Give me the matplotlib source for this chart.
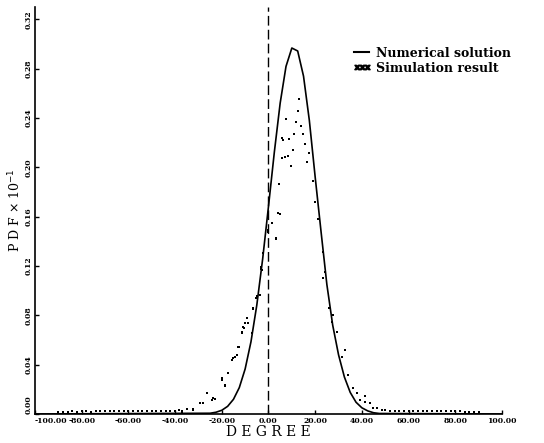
import matplotlib.pyplot as plt
from matplotlib.lines import Line2D
import numpy as np

# numerical solution
num_deg = [-100, -25, -22.5, -20, -17.5, -15, -12.5, -10, -7.5, -5, -2.5, 0, 2.5, 5,
           7.5, 10, 12.5, 15, 17.5, 20, 22.5, 25, 27.5, 30, 32.5, 35, 37.5, 40,
           42.5, 45, 47.5, 100]
num_pdf = [0.0, 0.0006, 0.0014, 0.0030, 0.0062, 0.0119, 0.0214, 0.0365, 0.0586,
           0.0884, 0.1257, 0.1684, 0.2123, 0.2521, 0.2819, 0.2968, 0.2944, 0.2740,
           0.2380, 0.1920, 0.1480, 0.1050, 0.0720, 0.0480, 0.0300, 0.0175, 0.0095,
           0.0050, 0.0025, 0.0010, 0.0004, 0.0]

# simulation result (dots)
sim_deg = [-90, -88, -86, -84, -82, -80, -78, -76, -74, -72, -70, -68, -66, -64,
           -62, -60, -58, -56, -54, -52, -50, -48, -46, -44, -42, -40, -38.5,
           -37.2, -37.2, -35, -32.2, -32.2, -29.3, -27.9, -26.5, -24.3, -23.6,
           -22.9, -20.0, -20.0, -18.6, -18.6, -17.2, -15.8, -15.3, -14.3, -13.6,
           -12.9, -12.5, -11.5, -11.5, -11.0, -10.5, -10.1, -9.3, -8.7, -7.2,
           -6.8, -6.5, -5.4, -5.1, -3.6, -3.3, -2.9, -2.5, -3.3, -0.1, -0.1, 1.4,
           1.6, 3.1, 3.1, 4.2, 4.6, 4.9, 5.8, 5.8, 6.1, 7.1, 7.5, 8.2, 8.9, 9.6,
           10.4, 11.0, 11.8, 12.5, 13.2, 13.9, 14.9, 15.6, 16.4, 17.5, 18.9, 19.9,
           21.3, 23.2, 24.2, 23.5, 26.0, 27.8, 27.1, 29.2, 32.8, 31.3, 34.2, 36.3,
           37.8, 39.2, 41.3, 41.3, 43.5, 44.9, 46.3, 48.5, 50, 52, 54, 56, 58, 60,
           62, 64, 66, 68, 70, 72, 74, 76, 78, 80, 82, 84, 86, 88, 90]
sim_pdf = [0.0018, 0.0020, 0.0019, 0.0021, 0.0020, 0.0022, 0.0021, 0.0020, 0.0022,
           0.0021, 0.0023, 0.0022, 0.0021, 0.0023, 0.0022, 0.0024, 0.0023, 0.0022,
           0.0024, 0.0023, 0.0025, 0.0024, 0.0026, 0.0025, 0.0027, 0.0026, 0.0030,
           0.0027, 0.0011, 0.0040, 0.0038, 0.0032, 0.0087, 0.0092, 0.0173, 0.0114,
           0.0127, 0.0119, 0.0290, 0.0276, 0.0235, 0.0227, 0.0330, 0.0438, 0.0452,
           0.0465, 0.0479, 0.0541, 0.0546, 0.0655, 0.0668, 0.0708, 0.0695, 0.0741,
           0.0776, 0.0736, 0.0655, 0.0858, 0.0850, 0.0944, 0.0957, 0.0966, 0.1174,
           0.1168, 0.1304, 0.1190, 0.1493, 0.1479, 0.1547, 0.1552, 0.1426, 0.1417,
           0.1628, 0.1864, 0.1623, 0.2075, 0.2237, 0.2223, 0.2083, 0.2391, 0.2093,
           0.2231, 0.2012, 0.2140, 0.2269, 0.2372, 0.2458, 0.2553, 0.2337, 0.2272,
           0.2188, 0.2047, 0.2120, 0.1890, 0.1723, 0.1580, 0.1317, 0.1155, 0.1101,
           0.0858, 0.0803, 0.0749, 0.0668, 0.0519, 0.0465, 0.0316, 0.0209, 0.0173,
           0.0114, 0.0146, 0.0100, 0.0087, 0.0046, 0.0046, 0.0032, 0.0030, 0.0028,
           0.0027, 0.0026, 0.0025, 0.0026, 0.0025, 0.0024, 0.0025, 0.0024, 0.0023,
           0.0024, 0.0023, 0.0022, 0.0023, 0.0022, 0.0021, 0.0020, 0.0019, 0.0018,
           0.0017]

xticks = np.arange(-100, 101, 20)
yticks = np.arange(0, 0.33, 0.04)

plt.rcParams['font.family'] = ['DejaVu Serif']

fig = plt.figure(figsize=(5.44, 4.43), dpi=100)
ax = fig.add_axes([0.0643, 0.0655, 0.8585, 0.9185])

ax.plot(num_deg, num_pdf, color='black', lw=1.2)
ax.plot(sim_deg, sim_pdf, 's', color='black', ms=2.0, mew=0)
ax.axvline(0, color='black', lw=1.0, ls=(0, (7, 3)))

ax.set_xlim(-100, 100)
ax.set_ylim(0, 0.330)
ax.set_xticks(xticks)
ax.set_xticklabels(['%.2f' % t for t in xticks], fontsize=5.5, fontweight='bold')
ax.set_yticks(yticks)
ax.set_yticklabels(['%.2f' % t for t in yticks], fontsize=5.5, fontweight='bold',
                   rotation=90, va='center')
ax.get_xticklabels()[0].set_horizontalalignment('left')
ax.get_yticklabels()[0].set_verticalalignment('bottom')
ax.tick_params(direction='in', length=3, width=1, pad=2)
ax.spines['top'].set_visible(False)
ax.spines['right'].set_visible(False)
ax.spines['left'].set_linewidth(1.2)
ax.spines['bottom'].set_linewidth(1.2)

ax.set_xlabel('D E G R E E', fontsize=10, labelpad=0)
ax.set_ylabel(r'P D F $\times$ 10$^{-1}$', fontsize=9, labelpad=1)

handles = [Line2D([], [], color='black', lw=1.5),
           Line2D([], [], marker=r'$\mathbf{xxx}$', ls='none', color='black', ms=11)]
ax.legend(handles, ['Numerical solution', 'Simulation result'], frameon=False,
          loc='upper left', bbox_to_anchor=(0.66, 0.93), handlelength=1.2,
          handletextpad=0.5, labelspacing=0.15,
          prop={'size': 9, 'weight': 'bold'})

fig.savefig('out.png', dpi=100)
